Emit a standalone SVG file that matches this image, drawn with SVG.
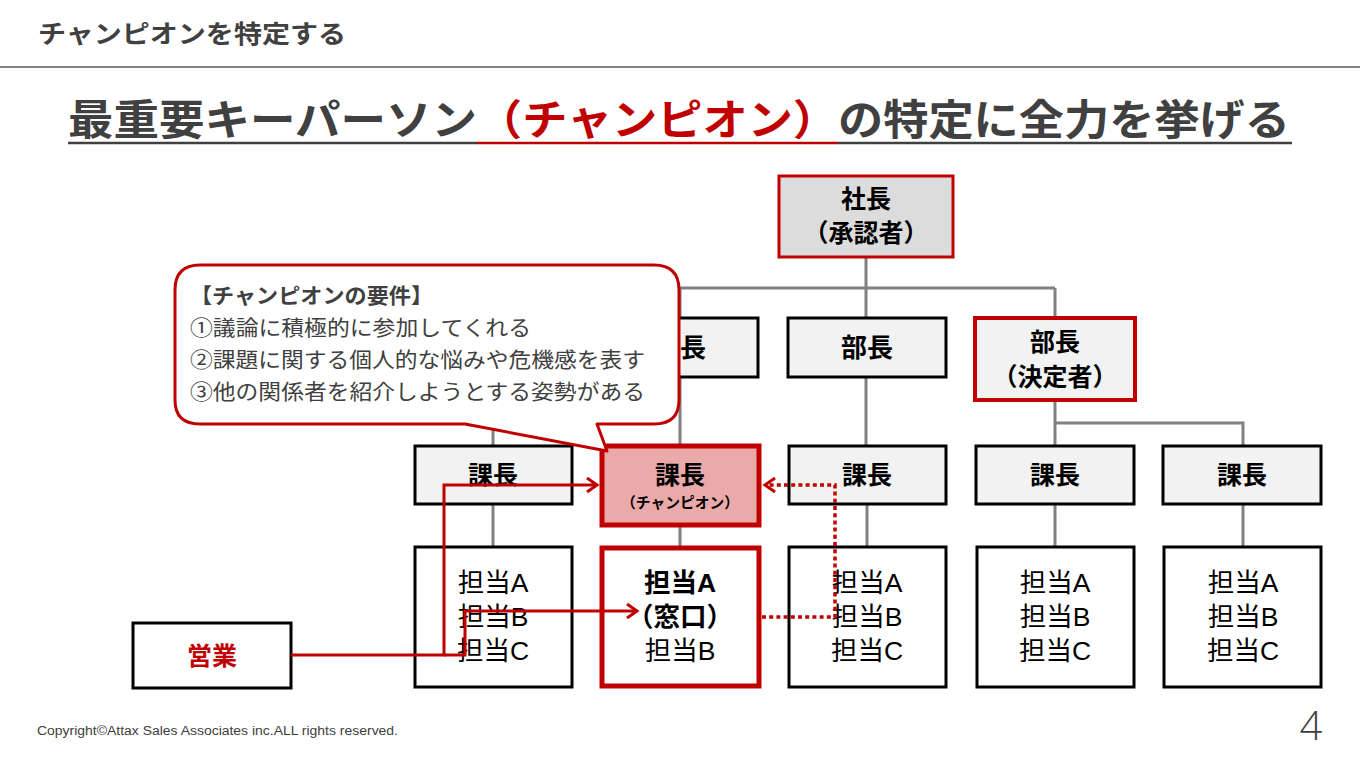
<svg xmlns="http://www.w3.org/2000/svg" width="1360" height="766" viewBox="0 0 1360 766">
<style>
text{font-family:"Noto Sans CJK JP","Noto Sans",sans-serif;fill:#404040}
.ml{font-family:"Liberation Sans","Noto Sans CJK JP",sans-serif}
.b{font-weight:bold}
.k{fill:#000}
.red{fill:#c00000}
.box{fill:#f2f2f2;stroke:#000;stroke-width:3}
.wbox{fill:#fff;stroke:#000;stroke-width:3}
.gl{stroke:#808080;stroke-width:3;fill:none}
.ra{stroke:#c00000;stroke-width:3;fill:none}
.dt{stroke:#c00000;stroke-width:3.5;fill:none;stroke-dasharray:4 3.2}
.c{text-anchor:middle}
</style>
<defs>
<marker id="chev" markerUnits="userSpaceOnUse" markerWidth="14" markerHeight="16" refX="11" refY="8" orient="auto">
<path d="M1,1 L11,8 L1,15" fill="none" stroke="#c00000" stroke-width="3" stroke-dasharray="none"/>
</marker>
</defs>
<rect width="1360" height="766" fill="#fff"/>
<g id="header">
<text x="38" y="43" font-size="25" class="b" textLength="308" lengthAdjust="spacingAndGlyphs">チャンピオンを特定する</text>
<line x1="0" y1="67" x2="1360" y2="67" stroke="#808080" stroke-width="2"/>
</g>
<g id="title">
<text x="68" y="135" font-size="42" class="b" textLength="409" lengthAdjust="spacingAndGlyphs">最重要キーパーソン</text>
<text x="477" y="135" font-size="42" class="b red" textLength="361" lengthAdjust="spacingAndGlyphs">（チャンピオン）</text>
<text x="838" y="135" font-size="42" class="b" textLength="452" lengthAdjust="spacingAndGlyphs">の特定に全力を挙げる</text>
<line x1="68" y1="143" x2="477" y2="143" stroke="#404040" stroke-width="2.5"/>
<line x1="477" y1="143" x2="838" y2="143" stroke="#c00000" stroke-width="2.5"/>
<line x1="838" y1="143" x2="1292" y2="143" stroke="#404040" stroke-width="2.5"/>
</g>
<g id="connectors">
<path class="gl" d="M866,257 V288 M493,288 H1055 M493,288 V445 M680,288 V445 M866,288 V318 M1055,288 V318"/>
<path class="gl" d="M866,377 V445 M1055,400 V445 M1055,423 H1243 V445"/>
<path class="gl" d="M493,504 V546 M680,527 V546 M867,504 V546 M1055,504 V546 M1243,504 V546"/>
</g>
<g id="n-shacho"><rect x="779" y="176" width="174" height="81" fill="#dcdcdc" stroke="#c00000" stroke-width="3"/>
<text font-size="25" class="b k c"><tspan x="866" y="208">社長</tspan><tspan x="866" y="242">（承認者）</tspan></text></g>
<g id="n-bucho2"><rect x="601" y="318" width="157" height="59" class="box"/><text x="680" y="357" font-size="26" class="b k c">部長</text></g>
<g id="n-bucho3"><rect x="788" y="318" width="158" height="59" class="box"/><text x="867" y="357" font-size="26" class="b k c">部長</text></g>
<g id="n-bucho4"><rect x="975" y="318" width="160" height="82" fill="#f2f2f2" stroke="#c00000" stroke-width="4"/>
<text font-size="25" class="b k c"><tspan x="1055" y="351">部長</tspan><tspan x="1055" y="386">（決定者）</tspan></text></g>
<g id="n-kacho1"><rect x="415" y="446" width="157" height="58" class="box"/><text x="493" y="484" font-size="25" class="b k c">課長</text></g>
<g id="n-kacho2"><rect x="602" y="446" width="157" height="79" fill="#ebaaaa" stroke="#c00000" stroke-width="5"/>
<text class="b k c ml"><tspan x="680" y="484" font-size="25">課長</tspan><tspan x="680" y="508" font-size="15" textLength="118" lengthAdjust="spacingAndGlyphs">（チャンピオン）</tspan></text></g>
<g id="n-kacho3"><rect x="789" y="446" width="157" height="58" class="box"/><text x="867" y="484" font-size="25" class="b k c">課長</text></g>
<g id="n-kacho4"><rect x="976" y="446" width="158" height="58" class="box"/><text x="1055" y="484" font-size="25" class="b k c">課長</text></g>
<g id="n-kacho5"><rect x="1163" y="446" width="158" height="58" class="box"/><text x="1242" y="484" font-size="25" class="b k c">課長</text></g>
<g id="n-tanto1"><rect x="415" y="547" width="157" height="140" class="wbox"/>
<text font-size="26.5" class="k c ml"><tspan x="493" y="592">担当A</tspan><tspan x="493" y="626">担当B</tspan><tspan x="493" y="660">担当C</tspan></text></g>
<g id="n-tanto2"><rect x="602" y="548" width="157" height="138" fill="#fff" stroke="#c00000" stroke-width="5"/>
<text font-size="26.5" class="k c ml"><tspan x="680" y="592" class="b">担当A</tspan><tspan x="680" y="626" class="b">（窓口）</tspan><tspan x="680" y="660">担当B</tspan></text></g>
<g id="n-tanto3"><rect x="789" y="547" width="157" height="140" class="wbox"/>
<text font-size="26.5" class="k c ml"><tspan x="867" y="592">担当A</tspan><tspan x="867" y="626">担当B</tspan><tspan x="867" y="660">担当C</tspan></text></g>
<g id="n-tanto4"><rect x="977" y="547" width="157" height="140" class="wbox"/>
<text font-size="26.5" class="k c ml"><tspan x="1055" y="592">担当A</tspan><tspan x="1055" y="626">担当B</tspan><tspan x="1055" y="660">担当C</tspan></text></g>
<g id="n-tanto5"><rect x="1164" y="547" width="157" height="140" class="wbox"/>
<text font-size="26.5" class="k c ml"><tspan x="1243" y="592">担当A</tspan><tspan x="1243" y="626">担当B</tspan><tspan x="1243" y="660">担当C</tspan></text></g>
<g id="n-eigyo"><rect x="133" y="623" width="158" height="65" class="wbox"/><text x="212" y="665" font-size="25" class="b red c">営業</text></g>
<g id="red-connectors">
<path class="ra" d="M291,655 H444 V485 H597" marker-end="url(#chev)"/>
<path class="ra" d="M444,655 H465 V611 H637" marker-end="url(#chev)"/>
<path class="dt" d="M762,617 H835 V485 H765" marker-end="url(#chev)"/>
</g>
<g id="callout">
<path d="M200,265 H654 Q679,265 679,290 V400 Q679,424 654,424 H597 L607,451 L465,424 H200 Q175,424 175,400 V290 Q175,265 200,265 Z" fill="#fff" stroke="#c00000" stroke-width="3" stroke-linejoin="round"/>
<text font-size="21"><tspan x="190" y="303" class="b" textLength="243" lengthAdjust="spacingAndGlyphs">【チャンピオンの要件】</tspan><tspan x="190" y="335" textLength="341" lengthAdjust="spacingAndGlyphs">①議論に積極的に参加してくれる</tspan><tspan x="190" y="367" textLength="455" lengthAdjust="spacingAndGlyphs">②課題に関する個人的な悩みや危機感を表す</tspan><tspan x="190" y="399" textLength="455" lengthAdjust="spacingAndGlyphs">③他の関係者を紹介しようとする姿勢がある</tspan></text>
</g>
<g id="footer">
<text x="37" y="735" font-size="12.5" style="font-family:'Liberation Sans',sans-serif" textLength="361" lengthAdjust="spacingAndGlyphs">Copyright©Attax Sales Associates inc.ALL rights reserved.</text>
<text x="1311" y="740" font-size="40" class="c" style="font-family:'Open Sans','Liberation Sans',sans-serif;font-weight:300">4</text>
</g>
</svg>
